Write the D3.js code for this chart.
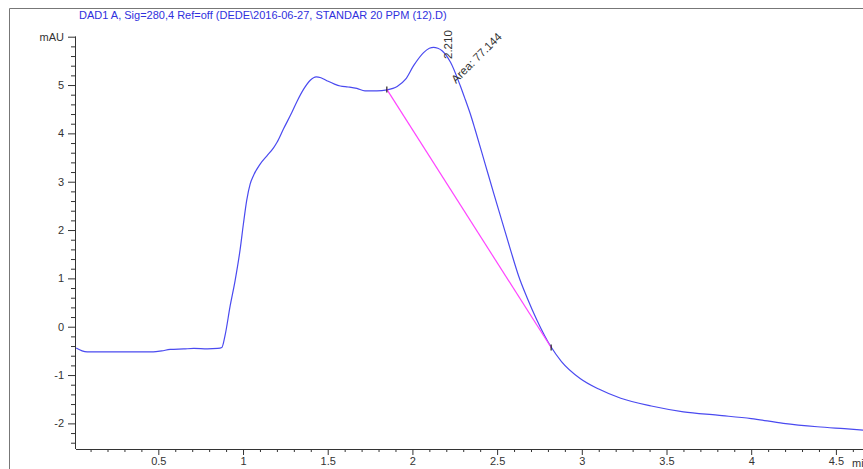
<!DOCTYPE html>
<html>
<head>
<meta charset="utf-8">
<script src="https://cdn.jsdelivr.net/npm/d3@7"></script>
<style>
  body { margin: 0; background: #fff; }
  svg { display: block; font-family: "Liberation Sans", Arial, sans-serif; }
</style>
</head>
<body>
<div id="chart"></div>
<script>
// retention time (min) and signal (mAU)
var times = [0.015, 0.05, 0.08, 0.15, 0.22, 0.30, 0.40, 0.47, 0.52, 0.57, 0.65, 0.71, 0.79, 0.85, 0.875,
  0.894, 0.924, 0.953, 0.983, 1.002, 1.022, 1.042, 1.062, 1.10, 1.14, 1.18, 1.20, 1.24, 1.288, 1.32,
  1.357, 1.397, 1.432, 1.46, 1.495, 1.54, 1.574, 1.62, 1.672, 1.72, 1.79, 1.85, 1.91, 1.96, 2.007,
  2.066, 2.10, 2.125, 2.15, 2.175, 2.225, 2.283, 2.312, 2.342, 2.37, 2.43, 2.48, 2.53, 2.58, 2.627,
  2.677, 2.736, 2.815, 2.88, 2.99, 3.10, 3.23, 3.41, 3.60, 3.80, 4.00, 4.19, 4.39, 4.55, 4.67];
var signal = [-0.44, -0.50, -0.52, -0.52, -0.52, -0.52, -0.52, -0.52, -0.50, -0.47, -0.46, -0.45, -0.46, -0.45, -0.43,
  -0.18, 0.43, 0.95, 1.60, 2.12, 2.62, 2.95, 3.13, 3.36, 3.53, 3.70, 3.81, 4.10, 4.43, 4.67,
  4.91, 5.10, 5.17, 5.15, 5.09, 5.02, 4.98, 4.96, 4.93, 4.88, 4.88, 4.90, 4.97, 5.12, 5.40,
  5.67, 5.76, 5.78, 5.76, 5.71, 5.47, 4.98, 4.70, 4.40, 4.08, 3.36, 2.76, 2.17, 1.58, 1.05,
  0.60, 0.13, -0.40, -0.72, -1.07, -1.29, -1.48, -1.64, -1.76, -1.83, -1.90, -2.00, -2.07, -2.11, -2.14];

// integration baseline of the peak
var baseTimes = [1.849, 2.819];
var baseValues = [4.91, -0.43];

var peakTime = 2.210;
var peakArea = "77.144";

var title = "DAD1 A, Sig=280,4 Ref=off (DEDE\\2016-06-27, STANDAR 20 PPM (12).D)";
var xMajor = [0.5, 1, 1.5, 2, 2.5, 3, 3.5, 4, 4.5];
var yMajor = [-2, -1, 0, 1, 2, 3, 4, 5, 6];

var w = 863, h = 469;

var x = d3.scaleLinear().domain([0.014, 4.66]).range([76, 863]);
var y = d3.scaleLinear().domain([-2.53, 6]).range([449, 36.7]);

var svg = d3.select("#chart").append("svg")
  .attr("width", w)
  .attr("height", h);

// outer frame
svg.append("path")
  .attr("d", "M9.5," + h + "V8.5H" + w)
  .attr("fill", "none")
  .attr("stroke", "#777")
  .attr("stroke-width", 1);

// title
svg.append("text")
  .attr("x", 79)
  .attr("y", 19)
  .attr("fill", "#3030dd")
  .attr("font-size", "11px")
  .text(title);

// minor ticks
var xMinor = d3.range(1, 47).map(d => d / 10).filter(d => Math.abs(d * 2 - Math.round(d * 2)) > 1e-6);
var yMinor = d3.range(-12, 30).map(d => d / 5).filter(d => Math.abs(d - Math.round(d)) > 1e-6);

var xAxisMinor = d3.axisBottom(x).tickValues(xMinor).tickSize(3).tickFormat("");
var xAxis = d3.axisBottom(x).tickValues(xMajor).tickSize(6).tickPadding(2)
  .tickFormat(d => d3.format("")(d));

svg.append("g").attr("class", "x axis").attr("transform", "translate(0,449)").call(xAxisMinor);
svg.append("g").attr("class", "x axis").attr("transform", "translate(0,449)").call(xAxis);

var yAxisMinor = d3.axisLeft(y).tickValues(yMinor).tickSize(5).tickFormat("");
var yAxis = d3.axisLeft(y).tickValues(yMajor).tickSize(8).tickPadding(4)
  .tickFormat(d => d === 6 ? "mAU" : d);

svg.append("g").attr("class", "y axis").attr("transform", "translate(76,0)").call(yAxisMinor);
svg.append("g").attr("class", "y axis").attr("transform", "translate(76,0)").call(yAxis);

svg.selectAll(".axis path").attr("stroke", "#333");
svg.selectAll(".x.axis path").attr("d", "M76,0.5H863");
svg.selectAll(".y.axis path").attr("d", "M-0.5,36.7V449");
svg.selectAll(".axis line").attr("stroke", "#333");
svg.selectAll(".axis text")
  .attr("fill", "#333")
  .attr("font-size", "11px")
  .attr("font-family", "Liberation Sans, Arial, sans-serif");

// unit of x axis, runs off the window edge as in the original
svg.append("text")
  .attr("x", 852)
  .attr("y", 467)
  .attr("fill", "#333")
  .attr("font-size", "11px")
  .text("min");

// trace
var line = d3.line()
  .x((d, i) => x(times[i]))
  .y(d => y(d))
  .curve(d3.curveMonotoneX);

svg.append("path")
  .datum(signal)
  .attr("fill", "none")
  .attr("stroke", "#4a4af0")
  .attr("stroke-width", 1.2)
  .attr("d", line);

// baseline
svg.append("line")
  .attr("x1", x(baseTimes[0])).attr("y1", y(baseValues[0]))
  .attr("x2", x(baseTimes[1])).attr("y2", y(baseValues[1]))
  .attr("stroke", "#ff44ff")
  .attr("stroke-width", 1.2);

svg.selectAll(".basemark")
  .data(baseTimes)
  .enter()
  .append("line")
  .attr("class", "basemark")
  .attr("x1", d => x(d)).attr("x2", d => x(d))
  .attr("y1", (d, i) => y(baseValues[i]) - 3)
  .attr("y2", (d, i) => y(baseValues[i]) + 3)
  .attr("stroke", "#222")
  .attr("stroke-width", 1.2);

// peak labels
svg.append("text")
  .attr("transform", "translate(" + (x(peakTime) + 4) + ",59) rotate(-90)")
  .attr("fill", "#333")
  .attr("font-size", "11.5px")
  .text(peakTime.toFixed(3));

svg.append("text")
  .attr("transform", "translate(" + (x(peakTime) + 8) + ",84) rotate(-45)")
  .attr("fill", "#333")
  .attr("font-size", "11.5px")
  .text("Area: " + peakArea);
</script>
</body>
</html>
